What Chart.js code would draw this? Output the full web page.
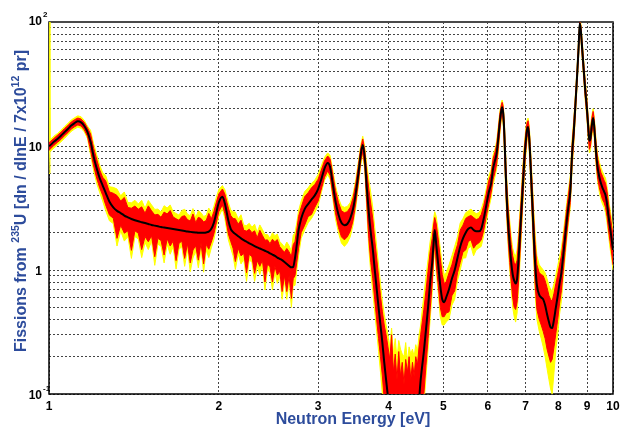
<!DOCTYPE html>
<html>
<head>
<meta charset="utf-8">
<script src="https://cdn.jsdelivr.net/npm/chart.js@4.4.1/dist/chart.umd.min.js"></script>
<style>
  html, body { margin: 0; padding: 0; background: #fff; }
  #wrap { width: 623px; height: 428px; }
</style>
</head>
<body>
<div id="wrap"><canvas id="chart" width="623" height="428"></canvas></div>
<script>
// neutron energy [eV], one line per stretch of the spectrum
const energy = [
  1.0, 1.004, 1.02, 1.035, 1.05, 1.065, 1.08, 1.095, 1.11, 1.125, 1.14, 1.155, 1.17, 1.185, 1.2, 1.215, 1.23, 1.245,
  1.26, 1.28, 1.30, 1.32, 1.34, 1.36, 1.38, 1.40, 1.42, 1.44, 1.46, 1.48, 1.50, 1.52, 1.54, 1.56, 1.58, 1.60,
  1.62, 1.64, 1.66, 1.68, 1.70, 1.72, 1.74, 1.76, 1.78, 1.80, 1.82, 1.84, 1.86, 1.88, 1.90, 1.92, 1.94, 1.96, 1.98, 2.00, 2.03, 2.05, 2.08, 2.10, 2.12,
  2.14, 2.165, 2.19, 2.215, 2.24, 2.265, 2.29, 2.315, 2.34, 2.365, 2.39, 2.415, 2.44, 2.465, 2.49, 2.515, 2.54, 2.565, 2.59, 2.615, 2.64, 2.665, 2.69, 2.71,
  2.73, 2.75, 2.77, 2.80, 2.84, 2.88, 2.92, 2.96, 3.00, 3.04, 3.08, 3.12, 3.15, 3.18, 3.22, 3.26, 3.30, 3.34, 3.38, 3.42, 3.46, 3.50, 3.54, 3.57, 3.60, 3.63,
  3.66, 3.69, 3.72, 3.75, 3.78, 3.81, 3.84, 3.87, 3.90, 3.93, 3.96, 3.99,
  4.02, 4.05, 4.08, 4.11, 4.14, 4.17, 4.20, 4.23, 4.26, 4.29, 4.32, 4.35, 4.38, 4.41, 4.44, 4.47, 4.50, 4.53, 4.56,
  4.59, 4.62, 4.66, 4.70, 4.74, 4.78, 4.81, 4.83, 4.86, 4.90, 4.94, 4.98, 5.02,
  5.06, 5.12, 5.18, 5.24, 5.30, 5.36, 5.42, 5.48, 5.54, 5.60, 5.66, 5.72, 5.78, 5.84, 5.90, 5.96, 6.02,
  6.08, 6.13, 6.18, 6.22, 6.26, 6.30, 6.34, 6.36, 6.39, 6.42, 6.45, 6.48, 6.52, 6.56, 6.60, 6.64, 6.68, 6.72, 6.76, 6.80, 6.84, 6.88, 6.92, 6.96, 7.00, 7.04, 7.07,
  7.10, 7.13, 7.16, 7.20, 7.24, 7.28, 7.33, 7.40, 7.46, 7.52, 7.58, 7.64, 7.70, 7.75, 7.80, 7.86, 7.92, 7.98, 8.04,
  8.10, 8.16, 8.22, 8.28, 8.34, 8.40, 8.46, 8.52, 8.58, 8.64, 8.69, 8.73, 8.77, 8.82, 8.87, 8.93, 8.99,
  9.04, 9.08, 9.12, 9.17, 9.22, 9.26, 9.30, 9.35, 9.40, 9.46, 9.52, 9.58, 9.64, 9.70, 9.76, 9.82, 9.88, 9.94, 10.0
];

// smooth black curve
const fitCurve = [
  10.0, 10.1, 10.8, 11.4, 12.1, 12.9, 13.7, 14.6, 15.3, 15.8, 15.5, 14.5, 13.0, 10.8, 8.2, 6.6, 5.5, 4.8,
  4.2, 3.55, 3.2, 3.0, 2.88, 2.75, 2.66, 2.58, 2.52, 2.47, 2.43, 2.39, 2.35, 2.31, 2.28, 2.25, 2.22, 2.2,
  2.18, 2.16, 2.14, 2.12, 2.1, 2.08, 2.06, 2.04, 2.03, 2.02, 2.01, 2.0, 2.0, 2.0, 2.01, 2.04, 2.15, 2.4, 2.9, 3.5, 3.9, 3.45, 2.5, 2.15, 2.02,
  1.95, 1.87, 1.8, 1.74, 1.69, 1.64, 1.6, 1.56, 1.52, 1.49, 1.46, 1.43, 1.4, 1.36, 1.33, 1.3, 1.26, 1.23, 1.2, 1.16, 1.12, 1.08, 1.05, 1.06,
  1.25, 1.6, 2.1, 2.6, 3.1, 3.4, 3.7, 4.0, 4.5, 5.4, 6.6, 7.3, 6.8, 5.2, 3.6, 2.8, 2.4, 2.3, 2.35, 2.6, 3.1, 4.2, 6.2, 8.5, 10.2, 8.0,
  4.6, 2.9, 2.0, 1.48, 1.01, 0.71, 0.5, 0.36, 0.26, 0.18, 0.13, 0.095,
  0.07, 0.06, 0.05, 0.05, 0.05, 0.05, 0.05, 0.05, 0.05, 0.05, 0.05, 0.05, 0.05, 0.05, 0.05, 0.06, 0.07, 0.09, 0.13,
  0.17, 0.22, 0.33, 0.5, 0.8, 1.15, 1.7, 2.1, 1.6, 1.1, 0.75, 0.58, 0.55,
  0.6, 0.7, 0.85, 1.0, 1.25, 1.55, 1.8, 2.0, 2.15, 2.2, 2.1, 2.05, 2.05, 2.15, 2.6, 3.3, 4.2,
  5.0, 6.6, 7.7, 8.8, 11.5, 15.5, 19.5, 20.5, 18, 12, 6.5, 3.8, 2.3, 1.6, 1.15, 0.92, 0.82, 0.78, 0.85, 1.2, 1.9, 3.0, 4.8, 7.5, 10.5, 13.5, 14.2,
  12, 8.5, 5.5, 3.2, 1.8, 1.1, 0.75, 0.63, 0.6, 0.58, 0.52, 0.44, 0.38, 0.345, 0.34, 0.4, 0.5, 0.62, 0.78,
  0.95, 1.3, 1.8, 2.5, 3.3, 4.3, 8.5, 13, 22, 38, 62, 98, 85, 60, 42, 28, 20,
  14, 11, 11.5, 14.5, 16.8, 14.5, 11, 8, 6.5, 5.6, 5.0, 4.6, 4.3, 4.0, 3.4, 2.7, 2.2, 1.8, 1.45
];

// red band (lower / upper edge)
const redLow = [
  9.3, 9.4, 10.1, 10.7, 11.3, 12.1, 12.8, 13.7, 14.3, 14.8, 14.5, 13.5, 12.0, 9.2, 6.9, 5.5, 4.6, 4.0,
  3.36, 2.77, 2.62, 1.8, 2.3, 1.98, 2.07, 1.44, 2.07, 1.98, 1.46, 1.86, 1.69, 1.89, 1.28, 1.8, 1.73, 1.32,
  1.79, 1.56, 1.71, 1.19, 1.64, 1.71, 1.24, 1.63, 1.14, 1.45, 1.57, 1.2, 1.64, 1.12, 1.61, 1.47, 1.68, 1.95, 2.4, 2.95, 3.35, 2.85, 1.95, 1.7, 1.5,
  1.17, 1.5, 1.3, 1.36, 0.95, 1.34, 1.28, 0.94, 1.19, 1.07, 1.2, 0.8, 1.12, 1.06, 0.8, 1.07, 0.91, 0.98, 0.67, 0.9, 0.67, 0.89, 0.59, 0.85,
  0.9, 1.15, 1.5, 2.0, 2.3, 2.7, 2.8, 3.2, 3.6, 4.5, 5.6, 6.3, 5.8, 4.3, 2.9, 2.2, 1.85, 1.75, 1.85, 2.05, 2.5, 3.5, 5.3, 7.5, 9.0, 6.8,
  3.4, 1.8, 1.15, 0.85, 0.58, 0.4, 0.28, 0.2, 0.14, 0.09, 0.06, 0.05,
  0.05, 0.05, 0.05, 0.05, 0.05, 0.05, 0.05, 0.05, 0.05, 0.05, 0.05, 0.05, 0.05, 0.05, 0.05, 0.05, 0.05, 0.05, 0.05,
  0.07, 0.1, 0.17, 0.28, 0.48, 0.78, 1.3, 1.7, 1.1, 0.75, 0.5, 0.42, 0.42,
  0.45, 0.46, 0.62, 0.68, 0.95, 1.15, 1.4, 1.45, 1.7, 1.75, 1.5, 1.6, 1.65, 1.75, 2.1, 2.7, 3.4,
  4.2, 5.4, 6.2, 7.2, 9.6, 13.2, 17.5, 18.5, 15.5, 9.5, 5.0, 2.9, 1.7, 1.15, 0.8, 0.6, 0.5, 0.48, 0.55, 0.8, 1.35, 2.2, 3.7, 6.0, 8.8, 11.8, 12.5,
  10.2, 7.0, 4.3, 2.4, 1.3, 0.75, 0.48, 0.4, 0.36, 0.32, 0.28, 0.23, 0.2, 0.18, 0.19, 0.24, 0.31, 0.4, 0.54,
  0.68, 0.97, 1.38, 1.95, 2.65, 3.5, 7.0, 11, 19, 33.5, 55, 90, 76, 53, 37, 24.5, 17.5,
  12, 9.4, 9.9, 12.6, 14.8, 12.6, 9.4, 6.7, 5.4, 4.6, 4.1, 3.7, 3.5, 3.2, 2.7, 2.1, 1.7, 1.4, 1.1
];
const redHigh = [
  10.7, 10.8, 11.5, 12.2, 12.9, 13.8, 14.6, 15.6, 16.3, 16.8, 16.5, 15.5, 14.0, 12.5, 9.6, 7.8, 6.4, 5.6,
  5.25, 4.26, 4.16, 3.99, 3.6, 3.85, 3.19, 3.15, 3.28, 3.09, 3.23, 2.87, 3.29, 3.0, 2.78, 2.81, 2.66, 2.93,
  2.83, 3.02, 2.68, 2.59, 2.52, 2.7, 2.74, 2.55, 2.48, 2.83, 2.41, 2.66, 2.6, 2.44, 2.51, 2.86, 2.58, 2.95, 3.5, 4.1, 4.5, 4.1, 3.15, 2.75, 2.6,
  2.59, 2.34, 2.52, 2.09, 2.06, 2.13, 2.0, 2.07, 1.82, 2.09, 1.9, 1.74, 1.75, 1.63, 1.77, 1.69, 1.76, 1.54, 1.46, 1.39, 1.49, 1.4, 1.28, 1.6,
  1.7, 2.1, 2.7, 3.2, 3.9, 4.2, 4.6, 4.9, 5.4, 6.4, 7.6, 8.3, 7.9, 6.2, 4.4, 3.5, 3.0, 2.9, 2.95, 3.2, 3.8, 5.0, 7.2, 9.6, 11.4, 9.2,
  6.2, 4.5, 3.4, 2.6, 1.75, 1.25, 0.88, 0.62, 0.46, 0.36, 0.3, 0.24,
  0.19, 0.3, 0.15, 0.21, 0.13, 0.22, 0.14, 0.18, 0.12, 0.19, 0.15, 0.2, 0.13, 0.18, 0.14, 0.2, 0.17, 0.24, 0.3,
  0.38, 0.48, 0.68, 0.98, 1.4, 1.8, 2.35, 2.65, 2.35, 1.75, 1.25, 0.92, 0.78,
  0.8, 0.95, 1.1, 1.35, 1.6, 2.1, 2.3, 2.6, 2.7, 2.75, 2.65, 2.55, 2.6, 2.8, 3.3, 4.1, 5.2,
  6.0, 7.9, 9.0, 10.3, 13.5, 18, 21.5, 22.5, 20.5, 14.5, 8.3, 5.0, 3.1, 2.2, 1.6, 1.3, 1.15, 1.1, 1.2, 1.7, 2.6, 4.0, 6.2, 9.2, 12.5, 15.3, 16,
  14, 10.3, 7.0, 4.3, 2.5, 1.6, 1.1, 0.95, 0.92, 0.9, 0.82, 0.72, 0.62, 0.58, 0.56, 0.65, 0.78, 0.92, 1.1,
  1.3, 1.72, 2.3, 3.15, 4.1, 5.3, 10.2, 15.5, 25.5, 43, 70, 100, 94, 67, 47.5, 32, 23,
  16.2, 12.8, 13.3, 16.6, 19, 16.6, 12.8, 9.5, 7.8, 6.8, 6.1, 5.7, 5.3, 5.0, 4.3, 3.4, 2.8, 2.3, 1.9
];

// yellow band (lower / upper edge)
const yellowLow = [
  6.0, 9.0, 9.6, 10.2, 10.8, 11.5, 12.3, 13.1, 13.7, 14.2, 13.9, 13.0, 11.5, 8.5, 6.3, 5.0, 4.2, 3.6,
  3.02, 2.49, 2.37, 1.56, 2.07, 1.71, 1.86, 1.24, 1.86, 1.78, 1.26, 1.67, 1.46, 1.71, 1.09, 1.62, 1.55, 1.14,
  1.61, 1.34, 1.54, 1.02, 1.47, 1.54, 1.07, 1.47, 0.97, 1.25, 1.41, 1.04, 1.48, 0.96, 1.45, 1.26, 1.51, 1.75, 2.2, 2.7, 3.1, 2.6, 1.75, 1.5, 1.3,
  1.01, 1.35, 1.12, 1.22, 0.81, 1.21, 1.15, 0.81, 1.06, 0.92, 1.08, 0.69, 1.01, 0.95, 0.69, 0.96, 0.78, 0.89, 0.58, 0.81, 0.58, 0.8, 0.5, 0.75,
  0.75, 1.0, 1.3, 1.8, 2.1, 2.4, 2.6, 2.9, 3.3, 4.2, 5.3, 5.9, 5.4, 4.0, 2.6, 2.0, 1.65, 1.55, 1.65, 1.85, 2.3, 3.2, 4.9, 7.0, 8.5, 6.3,
  3.0, 1.5, 0.95, 0.68, 0.46, 0.32, 0.22, 0.15, 0.1, 0.07, 0.05, 0.05,
  0.05, 0.05, 0.05, 0.05, 0.05, 0.05, 0.05, 0.05, 0.05, 0.05, 0.05, 0.05, 0.05, 0.05, 0.05, 0.05, 0.05, 0.05, 0.05,
  0.05, 0.08, 0.14, 0.23, 0.4, 0.66, 1.15, 1.5, 0.95, 0.65, 0.42, 0.36, 0.36,
  0.38, 0.4, 0.52, 0.58, 0.82, 1.0, 1.25, 1.25, 1.5, 1.55, 1.3, 1.45, 1.5, 1.55, 1.9, 2.4, 3.1,
  3.8, 4.9, 5.7, 6.6, 8.8, 12.3, 16.5, 17.5, 14.5, 8.6, 4.5, 2.6, 1.5, 1.0, 0.7, 0.5, 0.42, 0.38, 0.45, 0.68, 1.15, 1.9, 3.3, 5.4, 8.0, 11.0, 11.8,
  9.4, 6.3, 3.9, 2.1, 1.1, 0.62, 0.4, 0.32, 0.28, 0.24, 0.2, 0.16, 0.13, 0.11, 0.1, 0.15, 0.23, 0.3, 0.44,
  0.56, 0.84, 1.22, 1.75, 2.4, 3.2, 6.3, 10.2, 17.8, 31.5, 52, 85, 72, 50, 35, 23, 16.5,
  11.2, 8.8, 9.2, 11.8, 13.9, 11.8, 8.7, 6.2, 5.0, 4.2, 3.7, 3.4, 3.2, 2.9, 2.4, 1.9, 1.5, 1.25, 1.0
];
const yellowHigh = [
  100, 11.2, 12.0, 12.6, 13.4, 14.3, 15.2, 16.2, 16.9, 17.5, 17.2, 16.1, 14.5, 13.4, 10.4, 8.5, 7.0, 6.1,
  5.8, 4.69, 4.64, 4.5, 3.97, 4.26, 3.51, 3.48, 3.65, 3.41, 3.65, 3.15, 3.64, 3.35, 3.08, 3.1, 2.93, 3.3,
  3.16, 3.35, 2.95, 2.86, 2.77, 3.02, 3.09, 2.82, 2.74, 3.13, 2.65, 3.0, 2.9, 2.7, 2.77, 3.16, 2.84, 3.25, 3.85, 4.45, 4.8, 4.45, 3.5, 3.05, 2.95,
  2.93, 2.58, 2.79, 2.3, 2.28, 2.38, 2.21, 2.34, 2.01, 2.31, 2.12, 1.93, 1.93, 1.8, 2.0, 1.89, 1.95, 1.7, 1.62, 1.53, 1.68, 1.57, 1.42, 1.9,
  2.0, 2.4, 3.0, 3.6, 4.3, 4.6, 5.0, 5.3, 5.9, 6.9, 8.1, 8.8, 8.4, 6.7, 4.8, 3.8, 3.3, 3.2, 3.25, 3.5, 4.1, 5.4, 7.7, 10.2, 12.0, 9.8,
  7.0, 5.4, 4.2, 3.2, 2.2, 1.55, 1.1, 0.78, 0.56, 0.44, 0.36, 0.3,
  0.24, 0.34, 0.21, 0.28, 0.19, 0.27, 0.23, 0.21, 0.2, 0.26, 0.18, 0.24, 0.21, 0.23, 0.2, 0.25, 0.22, 0.3, 0.36,
  0.48, 0.62, 0.88, 1.22, 1.7, 2.1, 2.65, 2.95, 2.7, 2.05, 1.5, 1.1, 0.92,
  0.95, 1.1, 1.3, 1.55, 1.85, 2.4, 2.6, 2.9, 3.0, 3.1, 2.95, 2.85, 2.9, 3.1, 3.6, 4.5, 5.7,
  6.5, 8.5, 9.6, 11, 14.5, 19, 22.5, 23.5, 21.5, 15.5, 9.0, 5.5, 3.5, 2.5, 1.85, 1.5, 1.35, 1.3, 1.45, 2.0, 3.0, 4.5, 6.9, 10.0, 13.5, 16.2, 16.8,
  15, 11.2, 7.7, 4.8, 2.9, 1.9, 1.3, 1.1, 1.05, 1.0, 0.95, 0.85, 0.75, 0.7, 0.68, 0.78, 0.92, 1.08, 1.28,
  1.5, 1.95, 2.6, 3.5, 4.5, 5.8, 11.2, 16.5, 27, 45.5, 74, 100, 98, 71, 50, 34, 24.5,
  17.2, 13.6, 14.2, 17.6, 20, 17.6, 13.7, 10.2, 8.4, 7.4, 6.7, 6.2, 5.8, 5.5, 4.7, 3.8, 3.1, 2.6, 2.1
];

// axes
const xTicks = [1, 2, 3, 4, 5, 6, 7, 8, 9, 10];
const yGrid = [0.1, 0.2, 0.3, 0.4, 0.5, 0.6, 0.7, 0.8, 0.9, 1, 2, 3, 4, 5, 6, 7, 8, 9, 10, 20, 30, 40, 50, 60, 70, 80, 90, 100];
const yLabelValues = [0.1, 1, 10, 100];
const yLabelBase = ['10', '1', '10', '10'];
const yLabelExp = ['-1', '', '', '2'];
const xTitle = 'Neutron Energy [eV]';
const yTitleParts = ['Fissions from ', '235', 'U [dn / dlnE / 7x10', '12', ' pr]'];

const FONT = '"Liberation Sans", Arial, Helvetica, sans-serif';
const TITLE_BLUE = '#2d4c9c';

const pts = (vals) => energy.map((e, i) => ({ x: e, y: vals[i] }));

const decor = {
  id: 'decor',
  beforeDatasetsDraw(chart) {
    const { ctx, chartArea: a } = chart;
    ctx.save();
    ctx.strokeStyle = '#000';
    ctx.lineWidth = 1.5;
    ctx.beginPath();
    ctx.moveTo(a.left, a.top);
    ctx.lineTo(a.left, a.bottom);
    ctx.lineTo(a.right, a.bottom);
    ctx.lineTo(a.right, a.top);
    ctx.stroke();
    ctx.strokeStyle = '#4a4a4a';
    ctx.lineWidth = 2;
    ctx.beginPath();
    ctx.moveTo(a.left - 0.75, a.top);
    ctx.lineTo(a.right + 0.75, a.top);
    ctx.stroke();
    ctx.restore();
  },
  afterDraw(chart) {
    const { ctx, chartArea: a } = chart;
    const xs = chart.scales.x, ys = chart.scales.y;
    ctx.save();
    ctx.fillStyle = '#000';

    // x tick labels
    ctx.font = 'bold 12px ' + FONT;
    ctx.textAlign = 'center';
    ctx.textBaseline = 'alphabetic';
    xTicks.forEach(v => ctx.fillText(String(v), xs.getPixelForValue(v), 410));

    // y tick labels with exponents
    yLabelValues.forEach((v, i) => {
      const py = ys.getPixelForValue(v) - (v === 100 ? 2 : 0);
      ctx.font = 'bold 12px ' + FONT;
      ctx.textAlign = 'right';
      ctx.fillText(yLabelBase[i], a.left - 7, py + 4.5);
      if (yLabelExp[i]) {
        ctx.font = 'bold 8px ' + FONT;
        ctx.textAlign = 'left';
        ctx.fillText(yLabelExp[i], a.left - 6, py - 3);
      }
    });

    // axis titles
    ctx.fillStyle = TITLE_BLUE;
    ctx.font = 'bold 16px ' + FONT;
    ctx.textAlign = 'center';
    ctx.fillText(xTitle, 353, 424);

    ctx.translate(20, 201);
    ctx.rotate(-Math.PI / 2);
    ctx.textAlign = 'left';
    const fontFor = (i) => (i % 2 ? 'bold 10.5px ' : 'bold 16px ') + FONT;
    let total = 0;
    yTitleParts.forEach((t, i) => { ctx.font = fontFor(i); total += ctx.measureText(t).width; });
    let x = -total / 2;
    yTitleParts.forEach((t, i) => {
      ctx.font = fontFor(i);
      ctx.fillText(t, x, i % 2 ? -1 : 6);
      x += ctx.measureText(t).width;
    });
    ctx.restore();
  }
};

const gridStyle = { color: '#444', lineWidth: 1, drawTicks: false };
const borderStyle = { display: false, dash: [2, 2] };

new Chart(document.getElementById('chart'), {
  type: 'line',
  data: {
    datasets: [
      {
        label: 'fit',
        data: pts(fitCurve),
        borderColor: '#000',
        borderWidth: 2,
        cubicInterpolationMode: 'monotone',
        pointRadius: 0,
        fill: false
      },
      {
        label: 'red high',
        data: pts(redHigh),
        borderColor: '#ff0000',
        backgroundColor: '#ff0000',
        borderWidth: 1,
        pointRadius: 0,
        tension: 0,
        fill: '+1'
      },
      {
        label: 'red low',
        data: pts(redLow),
        borderColor: '#ff0000',
        borderWidth: 1,
        pointRadius: 0,
        tension: 0,
        fill: false
      },
      {
        label: 'yellow high',
        data: pts(yellowHigh),
        borderColor: '#ffff00',
        backgroundColor: '#ffff00',
        borderWidth: 1,
        pointRadius: 0,
        tension: 0,
        fill: '+1'
      },
      {
        label: 'yellow low',
        data: pts(yellowLow),
        borderColor: '#ffff00',
        borderWidth: 1,
        pointRadius: 0,
        tension: 0,
        fill: false
      }
    ]
  },
  options: {
    responsive: false,
    devicePixelRatio: 1,
    animation: false,
    layout: { padding: { left: 0, right: 10, top: 22, bottom: 0 } },
    plugins: {
      legend: { display: false },
      tooltip: { enabled: false }
    },
    scales: {
      x: {
        type: 'logarithmic',
        min: 1,
        max: 10,
        afterBuildTicks: (s) => { s.ticks = xTicks.map(v => ({ value: v })); },
        afterFit: (s) => { s.height = 34; },
        ticks: { display: false },
        grid: gridStyle,
        border: borderStyle
      },
      y: {
        type: 'logarithmic',
        min: 0.1,
        max: 100,
        afterBuildTicks: (s) => { s.ticks = yGrid.map(v => ({ value: v })); },
        afterFit: (s) => { s.width = 49; },
        ticks: { display: false },
        grid: gridStyle,
        border: borderStyle
      }
    }
  },
  plugins: [decor]
});
</script>
</body>
</html>
